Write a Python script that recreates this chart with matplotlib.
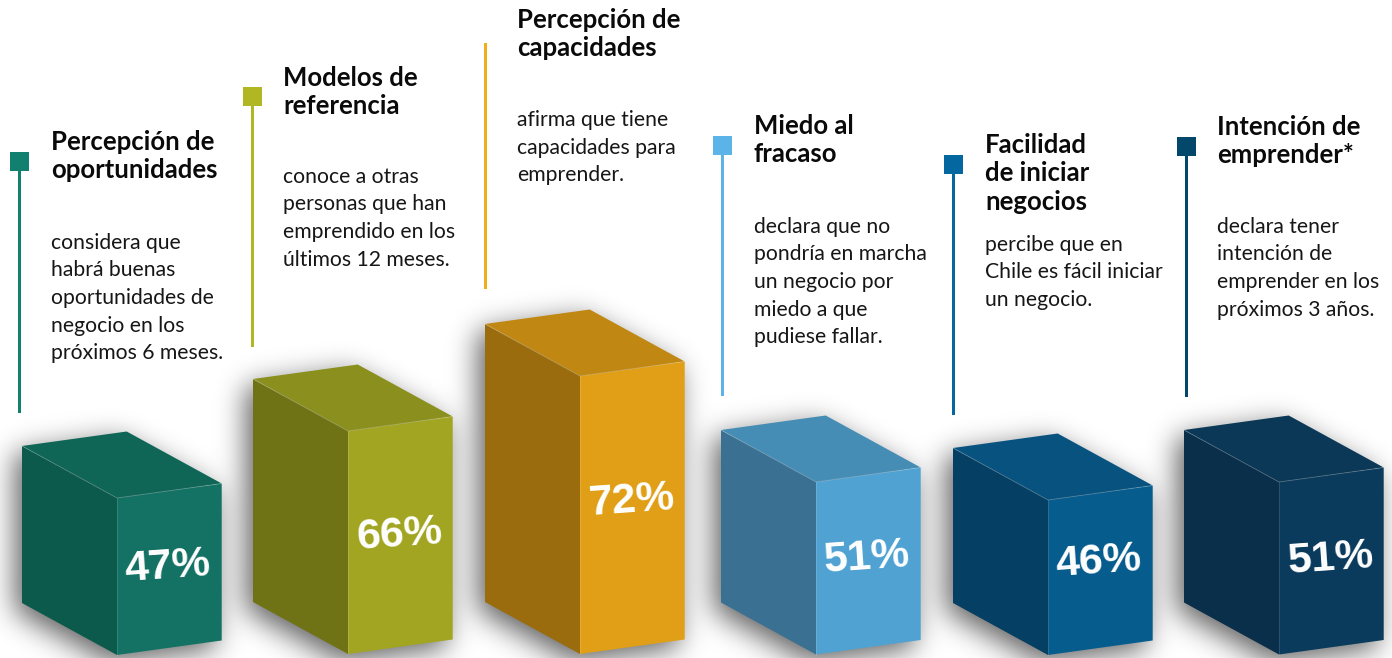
# GEM indicators as 3D boxes with captions
import numpy as np
import matplotlib
matplotlib.use('Agg')
import matplotlib.pyplot as plt
from matplotlib.patches import Polygon, Rectangle
from matplotlib.path import Path

# data
values = [47, 66, 72, 51, 46, 51]
titles = [
    ['Percepción de', 'oportunidades'],
    ['Modelos de', 'referencia'],
    ['Percepción de', 'capacidades'],
    ['Miedo al', 'fracaso'],
    ['Facilidad', 'de iniciar', 'negocios'],
    ['Intención de', 'emprender*'],
]
captions = [
    ['considera que', 'habrá buenas', 'oportunidades de', 'negocio en los', 'próximos 6 meses.'],
    ['conoce a otras', 'personas que han', 'emprendido en los', 'últimos 12 meses.'],
    ['afirma que tiene', 'capacidades para', 'emprender.'],
    ['declara que no', 'pondría en marcha', 'un negocio por', 'miedo a que', 'pudiese fallar.'],
    ['percibe que en', 'Chile es fácil iniciar', 'un negocio.'],
    ['declara tener', 'intención de', 'emprender en los', 'próximos 3 años.'],
]

# colours: marker, front, left, top
marker_colors = ['#12806f', '#b0b723', '#f0ae1a', '#5bb3e8', '#05679f', '#03476b']
front_colors = ['#137264', '#a2a521', '#e09f17', '#50a2d2', '#075c8e', '#0a3b5c']
left_colors = ['#0b5a4c', '#707315', '#9a6c0e', '#3a7193', '#053f63', '#092f4b']
top_colors = ['#0f6657', '#8a8f1e', '#c08713', '#458db5', '#07527e', '#0b3856']

# layout in pixels
W, H = 1392, 658
box_left = [22, 253, 485, 721, 953, 1184]
box_bottom = [603, 602, 602, 602.5, 603, 602.5]
stem_x = [19, 252.5, 485.5, 722.5, 953, 1186]
stem_top = [161, 96, 43, 145, 164, 146]
stem_bottom = [413, 347, 289, 396, 415, 397]
has_marker = [True, True, False, True, True, True]
text_x = [51, 283, 517, 754, 985, 1217]
title_y = [150, 86, 28, 134, 153, 135]
caption_y = [249, 183, 126, 233, 251, 233]
label_x = [168, 400, 631, 867, 1099, 1331]
label_y = [567, 535, 501, 558, 562, 559]
# the boxes are not drawn quite linearly in the source, this is its height scale
scale_v = [46, 47, 51, 66, 72]
scale_h = [155, 157, 172.5, 223, 278]

FONT = ['Lato', 'DejaVu Sans']


def blur(a, sigma):
    r = int(sigma * 3)
    k = np.exp(-0.5 * (np.arange(-r, r + 1) / sigma) ** 2)
    k /= k.sum()
    a = np.apply_along_axis(lambda m: np.convolve(m, k, mode='same'), 0, a)
    a = np.apply_along_axis(lambda m: np.convolve(m, k, mode='same'), 1, a)
    return a


def box_faces(left, bottom, height):
    # front corners are offset from the back-left edge
    dx1, dy1 = 95, 52
    dx2, dy2 = 104.7, -14.5
    x0, y0 = left, bottom
    x1, y1 = x0 + dx1, y0 + dy1
    x2, y2 = x1 + dx2, y1 + dy2
    lf = [(x0, y0), (x1, y1), (x1, y1 - height), (x0, y0 - height)]
    fr = [(x1, y1), (x2, y2), (x2, y2 - height), (x1, y1 - height)]
    tp = [(x0, y0 - height), (x1, y1 - height), (x2, y2 - height), (x0 + dx2, y0 + dy2 - height)]
    return lf, fr, tp


fig = plt.figure(figsize=(W / 100, H / 100), dpi=100)
ax = fig.add_axes([0, 0, 1, 1])
ax.set_xlim(0, W)
ax.set_ylim(H, 0)
ax.axis('off')

heights = np.interp(values, scale_v, scale_h)

# soft shadow under all boxes
yy, xx = np.mgrid[0:H + 60, 0:W]
pts = np.column_stack([xx.ravel() + 0.5, yy.ravel() + 0.5])
shadow = np.zeros(xx.shape)
for i in range(len(values)):
    lf, fr, tp = box_faces(box_left[i], box_bottom[i], heights[i])
    outline = [lf[0], lf[1], fr[1], fr[2], tp[3], lf[3]]
    # shifted a bit down and left
    outline = [(x - 7, y + 8) for x, y in outline]
    shadow += Path(outline).contains_points(pts).reshape(xx.shape)
shadow = blur(shadow, 14)[:H, :]
rgba = np.zeros((H, W, 4))
rgba[..., 3] = np.clip(shadow, 0, 1) * 0.62
ax.imshow(rgba, extent=(0, W, H, 0), aspect='auto', zorder=1, interpolation='bilinear')
ax.set_xlim(0, W)
ax.set_ylim(H, 0)

for i, v in enumerate(values):
    lf, fr, tp = box_faces(box_left[i], box_bottom[i], heights[i])
    ax.add_patch(Polygon(lf, closed=True, fc=left_colors[i], ec='none', zorder=2))
    ax.add_patch(Polygon(tp, closed=True, fc=top_colors[i], ec='none', zorder=2))
    ax.add_patch(Polygon(fr, closed=True, fc=front_colors[i], ec='none', zorder=2))
    # thin light seams on the box edges
    ax.plot([lf[3][0], lf[2][0], fr[2][0]], [lf[3][1], lf[2][1], fr[2][1]],
            color='white', lw=0.6, alpha=0.25, zorder=3)
    ax.plot([lf[1][0], lf[2][0]], [lf[1][1], lf[2][1]], color='white', lw=0.6, alpha=0.15, zorder=3)

    # value label on the front face
    ax.text(label_x[i], label_y[i], f'{v}%', color='white', fontsize=31, fontweight='bold',
            family='Liberation Sans', ha='center', va='center', rotation=4, zorder=4)

    # stem and marker
    ax.add_patch(Rectangle((stem_x[i] - 1.5, stem_top[i]), 3, stem_bottom[i] - stem_top[i],
                           fc=marker_colors[i], ec='none', zorder=2))
    if has_marker[i]:
        ax.add_patch(Rectangle((stem_x[i] - 9.5, stem_top[i] - 9.5), 19, 19,
                               fc=marker_colors[i], ec='none', zorder=2))

    for j, line in enumerate(titles[i]):
        ax.text(text_x[i], title_y[i] + j * 28.3, line, fontsize=18.5, fontweight='bold',
                family=FONT, color='#0a0a0a', ha='left', va='baseline', zorder=5)
    for j, line in enumerate(captions[i]):
        ax.text(text_x[i], caption_y[i] + j * 27.5, line, fontsize=15.2,
                family=FONT, color='#161616', ha='left', va='baseline', zorder=5)

plt.savefig('out.png', dpi=100)
